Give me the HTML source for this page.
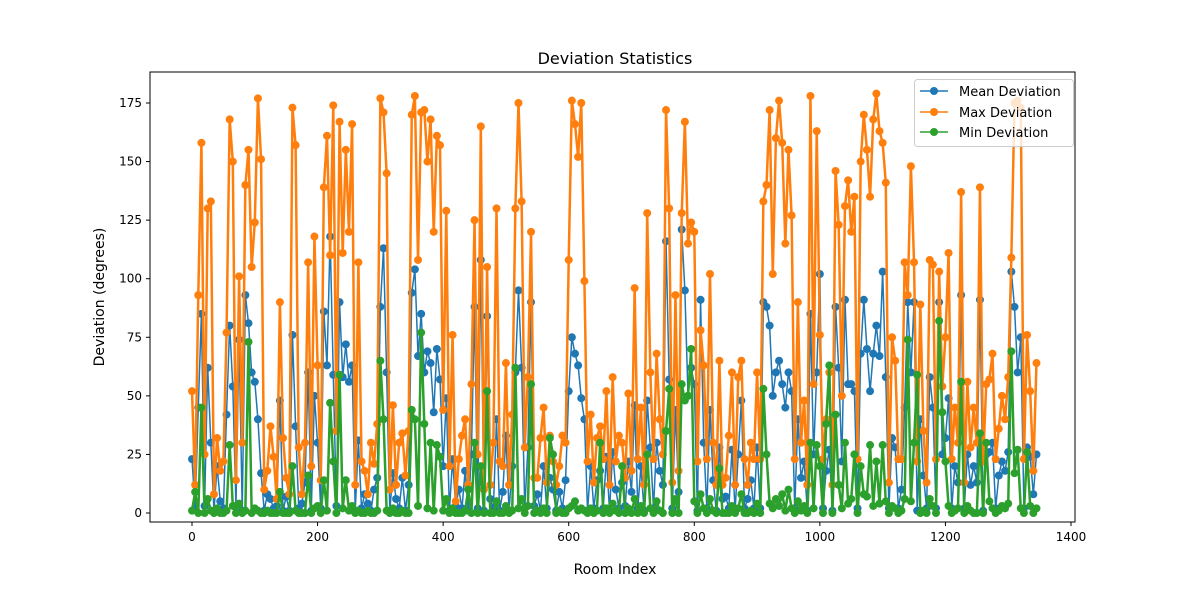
<!DOCTYPE html>
<html><head><meta charset="utf-8">
<style>
html,body{margin:0;padding:0;background:#fff;}
svg{display:block;font-family:"DejaVu Sans","Liberation Sans",sans-serif;}
</style></head>
<body>
<svg id="chart" width="1200" height="600">
  <rect x="0" y="0" width="1200" height="600" fill="#fff"/>
  <text x="615" y="64" text-anchor="middle" font-size="16">Deviation Statistics</text>
  <text x="615" y="574" text-anchor="middle" font-size="14">Room Index</text>
  <text x="104" y="297" text-anchor="middle" font-size="14" transform="rotate(-90 104 297)">Deviation (degrees)</text>
  <defs><clipPath id="clip"><rect x="150" y="72" width="925" height="450"/></clipPath></defs>
  <g id="plot" clip-path="url(#clip)"></g>
  <g id="axes"></g>
  <rect x="150" y="72" width="925" height="450" fill="none" stroke="#000" stroke-width="1"/>
  <g>
    <rect x="914.5" y="79.5" width="159" height="67" rx="3" fill="#fff" fill-opacity="0.8" stroke="#ccc"/>
    <g>
      <line x1="920" y1="91" x2="948" y2="91" stroke="#1f77b4" stroke-width="1.5"/>
      <circle cx="934" cy="91" r="4" fill="#1f77b4"/>
      <text x="959" y="96" font-size="13">Mean Deviation</text>
    </g>
    <g>
      <line x1="920" y1="112" x2="948" y2="112" stroke="#ff7f0e" stroke-width="1.5"/>
      <circle cx="934" cy="112" r="4" fill="#ff7f0e"/>
      <text x="959" y="117" font-size="13">Max Deviation</text>
    </g>
    <g>
      <line x1="920" y1="132" x2="948" y2="132" stroke="#2ca02c" stroke-width="1.5"/>
      <circle cx="934" cy="132" r="4" fill="#2ca02c"/>
      <text x="959" y="137" font-size="13">Min Deviation</text>
    </g>
  </g>
</svg>
<script>
const roomStep = 5;
const xTicks = [0,200,400,600,800,1000,1200,1400];
const yTicks = [0,25,50,75,100,125,150,175];
const maxDev = [
52,12,93,158,25,130,133,8,32,18,
22,77,168,150,14,101,30,140,155,105,
124,177,151,10,18,37,24,6,90,32,
15,8,173,157,28,8,30,107,20,118,
63,14,139,161,110,174,35,167,111,155,
120,166,12,107,22,18,8,30,21,38,
177,171,145,10,46,12,30,34,16,35,
170,178,108,171,172,150,168,120,161,157,
44,129,20,76,5,23,33,40,12,55,
125,25,165,10,105,12,30,130,22,20,
64,12,42,130,175,133,28,58,120,15,
15,32,45,13,33,22,12,20,33,30,
108,176,166,152,175,99,22,42,13,32,
37,23,52,12,58,22,33,30,15,51,
18,96,23,45,12,128,60,23,68,40,
25,172,130,13,93,18,128,167,115,124,
120,22,78,63,23,102,30,12,65,12,
15,33,60,12,58,65,23,12,30,23,
60,23,133,140,172,102,160,176,158,115,
155,127,23,90,30,48,12,178,55,163,
76,23,40,60,12,146,123,50,131,142,
120,135,23,150,170,155,135,168,179,163,
158,141,13,75,65,23,23,107,93,148,
107,22,89,35,13,108,106,23,103,54,
75,111,23,45,30,137,13,56,28,45,
30,139,22,55,57,68,23,36,50,40,
58,109,175,176,173,23,76,52,18,64];
const meanDev = [
23,2,45,85,3,62,30,1,20,5,
2,42,80,54,3,74,1,93,81,60,
56,40,17,1,8,6,2,3,48,1,
7,1,76,37,2,4,13,60,1,50,
30,2,86,63,118,59,3,90,58,72,
56,63,1,31,2,8,4,1,10,15,
88,113,60,1,17,6,2,15,1,12,
94,104,67,85,60,69,64,43,70,57,
20,49,1,23,3,10,2,18,1,25,
88,2,108,1,84,6,2,40,1,9,
33,1,20,60,95,62,2,28,90,3,
8,1,20,2,15,10,1,9,2,14,
52,75,68,63,49,40,1,20,2,14,
18,2,24,1,26,10,2,13,3,22,
9,46,2,20,1,48,28,2,30,18,
12,116,57,2,44,9,121,95,50,62,
55,1,91,30,2,44,14,1,28,6,
7,2,27,1,25,48,2,6,14,2,
28,2,90,88,80,50,60,65,55,45,
60,52,2,40,15,22,1,85,25,60,
102,2,18,27,1,88,62,22,91,55,
55,52,2,68,91,70,52,68,80,67,
103,58,2,32,28,2,10,45,90,60,
90,1,40,16,2,58,45,2,90,25,
32,49,2,20,13,93,2,25,12,20,
13,91,1,25,26,30,2,16,22,18,
26,103,88,60,75,2,28,24,8,25];
const minDev = [
1,9,0,45,0,6,1,0,2,0,
0,1,29,3,0,4,0,1,73,0,
2,1,0,0,1,0,0,0,9,0,
0,0,20,1,0,0,0,16,0,2,
3,0,14,1,47,22,0,59,2,14,
1,3,0,1,0,0,1,0,0,1,
65,40,1,0,2,0,0,1,0,0,
44,40,3,77,38,2,30,1,29,24,
1,6,0,2,0,0,0,1,10,0,
30,0,20,0,52,0,0,5,0,0,
3,0,1,62,2,6,0,3,55,0,
1,0,2,0,32,25,0,1,0,0,
2,3,5,1,2,1,0,2,0,1,
30,0,2,0,4,1,0,20,0,2,
0,6,0,3,0,25,2,0,5,1,
0,35,53,0,6,0,55,48,50,70,
5,0,8,2,0,6,1,0,19,0,
0,0,3,0,2,8,0,0,1,0,
4,0,53,25,4,2,6,3,8,1,
10,2,0,5,1,3,0,30,2,29,
20,0,38,63,0,42,12,2,30,4,
6,25,0,20,8,7,29,3,22,4,
29,5,0,3,2,0,1,6,74,5,
30,59,0,1,0,6,3,0,82,43,
22,3,0,1,2,56,0,3,1,0,
0,34,0,30,5,2,0,1,3,2,
4,69,17,27,2,0,26,3,0,2];

const NS = "http://www.w3.org/2000/svg";
function xPix(v){ return 192 + v * (879/1400); }
function yPix(v){ return 513 - v * (410/175); }

const axes = document.getElementById('axes');
xTicks.forEach(t => {
  const x = xPix(t);
  const l = document.createElementNS(NS,'line');
  l.setAttribute('x1',x); l.setAttribute('x2',x); l.setAttribute('y1',522); l.setAttribute('y2',526);
  l.setAttribute('stroke','#000');
  
  
  axes.appendChild(l);
  const tx = document.createElementNS(NS,'text');
  tx.setAttribute('x',x); tx.setAttribute('y',541); tx.setAttribute('text-anchor','middle'); tx.setAttribute('font-size','12');
  tx.textContent = t;
  
  
  axes.appendChild(tx);
});
yTicks.forEach(t => {
  const y = yPix(t);
  const l = document.createElementNS(NS,'line');
  l.setAttribute('x1',146); l.setAttribute('x2',150); l.setAttribute('y1',y); l.setAttribute('y2',y);
  l.setAttribute('stroke','#000');
  
  
  axes.appendChild(l);
  const tx = document.createElementNS(NS,'text');
  tx.setAttribute('x',142); tx.setAttribute('y',y+4); tx.setAttribute('text-anchor','end'); tx.setAttribute('font-size','12');
  tx.textContent = t;
  
  
  axes.appendChild(tx);
});

const plot = document.getElementById('plot');
function drawSeries(vals, color, name, sw){
  const g = document.createElementNS(NS,'g');
  
  
  let d = '';
  vals.forEach((v,i) => { d += (i ? 'L' : 'M') + xPix(i*roomStep).toFixed(2) + ' ' + yPix(v).toFixed(2); });
  const p = document.createElementNS(NS,'path');
  p.setAttribute('d', d); p.setAttribute('fill','none'); p.setAttribute('stroke',color); p.setAttribute('stroke-width',sw);
  
  
  g.appendChild(p);
  vals.forEach((v,i) => {
    const c = document.createElementNS(NS,'circle');
    c.setAttribute('cx', xPix(i*roomStep)); c.setAttribute('cy', yPix(v)); c.setAttribute('r', 4); c.setAttribute('fill', color);
    
    
    g.appendChild(c);
  });
  plot.appendChild(g);
}
drawSeries(meanDev, '#1f77b4', 'mean-deviation-series', 1.5);
drawSeries(maxDev, '#ff7f0e', 'max-deviation-series', 2.5);
drawSeries(minDev, '#2ca02c', 'min-deviation-series', 2.5);
</script>
</body></html>
